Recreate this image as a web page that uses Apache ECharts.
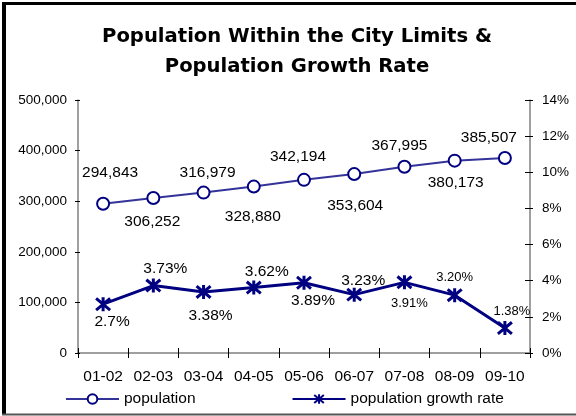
<!DOCTYPE html>
<html>
<head>
<meta charset="utf-8">
<style>
  html, body { margin: 0; padding: 0; background: #fff; }
  #chart { width: 576px; height: 416px; }
</style>
<script src="https://cdn.jsdelivr.net/npm/echarts@6/dist/echarts.min.js"></script>
</head>
<body>
<div id="chart"></div>
<script>
// Fiscal years
const years = ['01-02', '02-03', '03-04', '04-05', '05-06', '06-07', '07-08', '08-09', '09-10'];
// Population within the city limits
const population = [294843, 306252, 316979, 328880, 342194, 353604, 367995, 380173, 385507];
// Annual population growth rate, percent
const growthRate = [2.7, 3.73, 3.38, 3.62, 3.89, 3.23, 3.91, 3.20, 1.38];
// Growth-rate label text as published
const growthText = ['2.7%', '3.73%', '3.38%', '3.62%', '3.89%', '3.23%', '3.91%', '3.20%', '1.38%'];

// Label placement around each point: [dx, dy] from the point centre
const popLabelShift = [[7, -31], [-1, 24], [4, -20], [-1, 30], [-6, -23], [1, 32], [-5, -21], [1, 22], [-16, -20]];
const rateLabelShift = [[9, 18], [12, -17], [7, 24], [13, -16], [9, 18], [9, -14], [5, 21], [0, -18], [7, -17]];
const rateLabelSize = [15.5, 15.5, 15.5, 15.5, 15.5, 15.5, 13, 13, 13];

const NAVY = '#000080';
const TXT = 'Liberation Sans, Arial, sans-serif';
const asterisk = 'path://M0,0L10,10M10,0L0,10M5,-1L5,11';

const chart = echarts.init(document.getElementById('chart'), null, { renderer: 'canvas' });

const fmtThousands = v => String(v).replace(/\B(?=(\d{3})+(?!\d))/g, ',');

const popData = population.map((v, i) => ({
  value: v,
  label: { offset: popLabelShift[i] }
}));
const rateData = growthRate.map((v, i) => ({
  value: v,
  label: { offset: rateLabelShift[i], fontSize: rateLabelSize[i], formatter: growthText[i] }
}));

const axisLineStyle = { color: '#808080', width: 1.5 };

chart.setOption({
  animation: false,
  backgroundColor: '#fff',
  title: {
    text: 'Population Within the City Limits &\nPopulation Growth Rate',
    left: 292,
    top: 17,
    textAlign: 'center',
    textStyle: {
      fontFamily: 'DejaVu Sans, Verdana, sans-serif',
      fontWeight: 'bold',
      fontSize: 19.6,
      lineHeight: 30,
      color: '#000'
    }
  },
  graphic: [
    { type: 'line', shape: { x1: 4, y1: 2, x2: 4, y2: 415 }, style: { stroke: '#000', lineWidth: 4 } },
    { type: 'line', shape: { x1: 2, y1: 3.5, x2: 576, y2: 3.5 }, style: { stroke: '#000', lineWidth: 3 } },
    { type: 'line', shape: { x1: 2, y1: 414.5, x2: 576, y2: 414.5 }, style: { stroke: '#555', lineWidth: 2 } }
  ],
  legend: {
    left: 60,
    top: 386,
    itemWidth: 53,
    itemHeight: 12,
    itemGap: 96,
    textStyle: { fontFamily: TXT, fontSize: 15.5, color: '#000' },
    data: ['population', 'population growth rate']
  },
  grid: { left: 78, right: 46, top: 100, bottom: 63 },
  xAxis: [
    {
      type: 'category',
      position: 'bottom',
      data: years,
      boundaryGap: true,
      axisLine: { lineStyle: axisLineStyle },
      axisTick: { show: true, length: 5, inside: false, lineStyle: { color: '#000' } },
      axisLabel: { fontFamily: TXT, fontSize: 15.5, color: '#000', margin: 16, interval: 0, hideOverlap: false },
      splitLine: { show: false }
    },
    {
      type: 'category',
      position: 'bottom',
      data: years,
      boundaryGap: true,
      axisLine: { show: false },
      axisTick: { show: true, length: 5, inside: true, lineStyle: { color: '#000' } },
      axisLabel: { show: false },
      splitLine: { show: false }
    }
  ],
  yAxis: [
    {
      type: 'value',
      position: 'left',
      min: 0, max: 500000, interval: 100000,
      axisLine: { show: true, lineStyle: axisLineStyle },
      axisTick: { show: true, length: 3, lineStyle: { color: '#000' } },
      axisLabel: { fontFamily: TXT, fontSize: 13.5, color: '#000', margin: 11, formatter: fmtThousands },
      splitLine: { show: false }
    },
    {
      type: 'value',
      position: 'right',
      min: 0, max: 14, interval: 2,
      axisLine: { show: true, lineStyle: axisLineStyle },
      axisTick: { show: true, length: 3, lineStyle: { color: '#000' } },
      axisLabel: { fontFamily: TXT, fontSize: 13.5, color: '#000', margin: 12, formatter: '{value}%' },
      splitLine: { show: false }
    },
    {
      type: 'value',
      position: 'left',
      min: 0, max: 500000, interval: 100000,
      axisLine: { show: false },
      axisTick: { show: true, length: 2, inside: true, lineStyle: { color: '#000' } },
      axisLabel: { show: false },
      splitLine: { show: false }
    },
    {
      type: 'value',
      position: 'right',
      min: 0, max: 14, interval: 2,
      axisLine: { show: false },
      axisTick: { show: true, length: 5, inside: true, lineStyle: { color: '#000' } },
      axisLabel: { show: false },
      splitLine: { show: false }
    }
  ],
  series: [
    {
      name: 'population',
      type: 'line',
      xAxisIndex: 0,
      yAxisIndex: 0,
      data: popData,
      symbol: 'emptyCircle',
      symbolSize: 12,
      itemStyle: { color: NAVY, borderColor: NAVY, borderWidth: 2.5 },
      lineStyle: { color: '#33339a', width: 2 },
      label: {
        show: true,
        position: 'inside',
        fontFamily: TXT,
        fontSize: 15.5,
        color: '#000',
        formatter: p => fmtThousands(p.value)
      },
      z: 3
    },
    {
      name: 'population growth rate',
      type: 'line',
      xAxisIndex: 0,
      yAxisIndex: 1,
      data: rateData,
      symbol: asterisk,
      symbolSize: 14,
      itemStyle: { color: NAVY, borderColor: NAVY, borderWidth: 3 },
      lineStyle: { color: NAVY, width: 3 },
      label: {
        show: true,
        position: 'inside',
        fontFamily: TXT,
        fontSize: 15.5,
        color: '#000'
      },
      z: 3
    }
  ]
});
</script>
</body>
</html>
